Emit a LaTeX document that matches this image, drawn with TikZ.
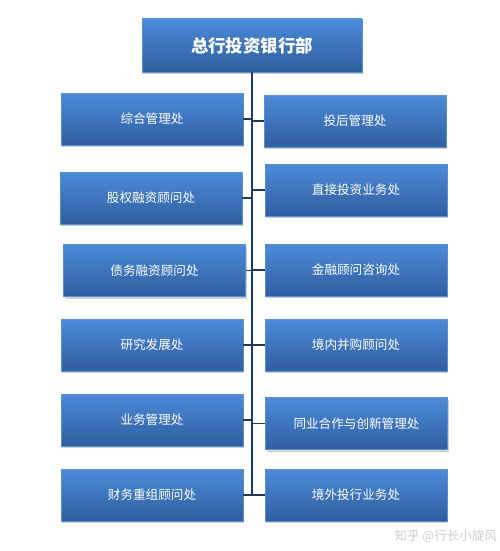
\documentclass[tikz,border=0pt]{standalone}
\usepackage{fontspec}
\newfontfamily\cjk{Noto Sans CJK SC}
\usetikzlibrary{shadows}
\definecolor{boxtop}{HTML}{4C8BDB}
\definecolor{boxbot}{HTML}{2F5E9E}
\definecolor{boxedge}{HTML}{5A8FCF}
\definecolor{linec}{HTML}{1F3B5E}
\tikzset{
  orgbox/.style={rectangle, draw=boxedge, line width=0.6pt, top color=boxtop, bottom color=boxbot,
    minimum width=182pt, minimum height=52pt, inner sep=0pt, text=white,
    font=\cjk\fontsize{12.6}{14}\selectfont,
    drop shadow={opacity=0.35, shadow xshift=1.2pt, shadow yshift=-2pt}},
  headbox/.style={orgbox, minimum width=220pt, minimum height=53pt, font=\cjk\bfseries\fontsize{17.4}{20}\selectfont},
  conn/.style={draw=linec, line width=1.8pt}
}
\begin{document}
\begin{tikzpicture}[x=1pt,y=-1pt]
\fill[white] (0,0) rectangle (500,551);
\useasboundingbox (0,0) rectangle (500,551);
\node[headbox] (top) at (252,45.5) {总行投资银行部};
\node[orgbox] (l1) at (152,119) {综合管理处};
\node[orgbox] (l2) at (151,198) {股权融资顾问处};
\node[orgbox] (l3) at (154.5,270.5) {债务融资顾问处};
\node[orgbox] (l4) at (152,345) {研究发展处};
\node[orgbox] (l5) at (152,420) {业务管理处};
\node[orgbox] (l6) at (152,495) {财务重组顾问处};
\node[orgbox] (r1) at (355,121) {投后管理处};
\node[orgbox] (r2) at (356,190) {直接投资业务处};
\node[orgbox] (r3) at (356,270) {金融顾问咨询处};
\node[orgbox] (r4) at (356,345) {境内并购顾问处};
\node[orgbox] (r5) at (356.5,423.5) {同业合作与创新管理处};
\node[orgbox] (r6) at (356,495) {境外投行业务处};
\coordinate (spineend) at (253,495);
\path[conn] (top.south) -- (top.south |- spineend);
\foreach \b in {l1,l2,l3,l4,l5,l6}{\path[conn] (\b.east) -- (\b.east -| top.south);}
\foreach \b in {r1,r2,r3,r4,r5,r6}{\path[conn] (\b.west -| top.south) -- (\b.west);}
\node[anchor=east, inner sep=0pt, text=black!20, font=\cjk\fontsize{12.5}{15}\selectfont] (wm) at (497,536) {知乎 @行长小旋风};
\end{tikzpicture}
\end{document}
